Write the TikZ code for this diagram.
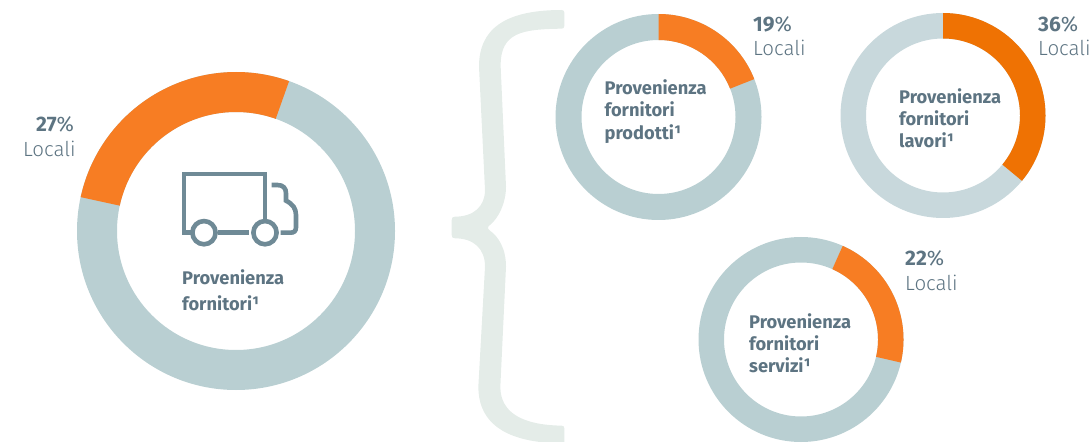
\documentclass[tikz,border=0pt]{standalone}
\usepackage{fontspec}
\setmainfont{Fira Sans}
\newfontfamily\lightfont{Fira Sans Light}
\definecolor{ringgrey}{HTML}{B9CFD2}
\definecolor{ringlight}{HTML}{C8D8DC}
\definecolor{orangeA}{HTML}{F77D23}
\definecolor{orangeB}{HTML}{EF7203}
\definecolor{bracec}{HTML}{E4ECE8}
\definecolor{txt}{HTML}{5D7482}
\definecolor{truckc}{HTML}{6F8A96}
\newcommand{\donut}[5]{%
 \begin{scope}[shift={(#1,442-#2)}]
  \fill[#5] (0,0) circle[radius=#3pt] (0,0) circle[radius=#4pt];
 \end{scope}}
\newcommand{\wedgeseg}[7]{%
 \begin{scope}[shift={(#1,442-#2)}]
  \fill[#7] (90-#5:#3pt) arc[start angle=90-#5,end angle=90-#6,radius=#3pt]
     -- (90-#6:#4pt) arc[start angle=90-#6,end angle=90-#5,radius=#4pt] -- cycle;
 \end{scope}}
\newcommand{\pctmark}{{\mdseries\%}}
\tikzset{
  lab/.style={anchor=base west,inner sep=0pt,font=\fontsize{18.3}{20}\selectfont\bfseries,text=txt},
  pct/.style={anchor=base west,inner sep=0pt,font=\fontsize{21}{22}\selectfont\bfseries,text=txt},
  loc/.style={anchor=base west,inner sep=0pt,font=\fontsize{20.5}{24}\lightfont,text=txt},
  trk/.style={draw=truckc,line width=4.6pt,line join=miter}
}
\begin{document}
\begin{tikzpicture}[x=1pt,y=1pt]
\useasboundingbox (0,0) rectangle (1091,442);
% brace
\begin{scope}[shift={(440,442)},x=0.33333pt,y=-0.33333pt]
\fill[bracec] (365,30) .. controls (370,30) and (373,33) .. (373,38) -- (373,78)
 .. controls (373,83) and (370,86) .. (365,86)
 .. controls (250,88) and (180,95) .. (182,200) -- (198,560)
 .. controls (198,610) and (175,655) .. (150,675)
 .. controls (142,681) and (142,686) .. (150,692)
 .. controls (175,710) and (198,745) .. (198,800) -- (181,1160)
 .. controls (181,1240) and (250,1275) .. (365,1277)
 .. controls (370,1277) and (373,1280) .. (373,1285) -- (373,1326) -- (300,1326)
 .. controls (170,1310) and (115,1250) .. (115,1160) -- (135,800)
 .. controls (135,745) and (100,715) .. (45,715)
 .. controls (38,715) and (35,712) .. (35,705) -- (35,660)
 .. controls (35,653) and (38,650) .. (45,650)
 .. controls (100,650) and (135,620) .. (135,570) -- (117,200)
 .. controls (117,90) and (190,30) .. (365,30) -- cycle;
\end{scope}
% donuts
\begin{scope}[even odd rule]
\donut{236}{231}{159}{119}{ringgrey}
\donut{658.5}{117}{103}{77}{ringgrey}
\donut{943}{115.5}{102.5}{77}{ringlight}
\donut{801}{339.5}{102.5}{77}{ringgrey}
\end{scope}
\wedgeseg{236}{231}{159}{119}{-77.7}{19.5}{orangeA}
\wedgeseg{658.5}{117}{103}{77}{0}{68.4}{orangeA}
\wedgeseg{943}{115.5}{102.5}{77}{0}{129.6}{orangeB}
\wedgeseg{801}{339.5}{102.5}{77}{24}{103}{orangeA}
% truck
\begin{scope}[shift={(160,292)},x=0.33333pt,y=-0.33333pt]
\draw[trk] (95,248) -- (72,248) -- (72,72) -- (315,72) -- (315,212);
\draw[trk] (175,248) -- (268,248);
\draw[trk] (335,105) -- (352,105) .. controls (370,105) and (378,115) .. (378,130)
  -- (378,152) .. controls (398,162) and (408,175) .. (408,195) -- (408,232)
  .. controls (408,243) and (402,248) .. (392,248) -- (362,248);
\draw[trk] (132,248) circle[radius=11.6pt];
\draw[trk] (315,248) circle[radius=11.6pt];
\end{scope}
% labels
\node[pct] (p1) at (36,442-132) {27\pctmark};
\node[loc] (l1) at (23,442-157) {Locali};
\node[lab] (a1) at (182,442-284.5) {Provenienza};
\node[lab] (a2) at (182,442-310) {fornitori¹};
\node[pct] (p2) at (753,442-32) {19\pctmark};
\node[loc] (l2) at (753,442-56) {Locali};
\node[lab] (b1) at (604.5,442-95) {Provenienza};
\node[lab] (b2) at (604.5,442-117) {fornitori};
\node[lab] (b3) at (604.5,442-139.5) {prodotti¹};
\node[pct] (p3) at (1038,442-32) {36\pctmark};
\node[loc] (l3) at (1038,442-56) {Locali};
\node[lab] (c1) at (899,442-104) {Provenienza};
\node[lab] (c2) at (899,442-126) {fornitori};
\node[lab] (c3) at (899,442-148) {lavori¹};
\node[pct] (p4) at (905,442-265) {22\pctmark};
\node[loc] (l4) at (905,442-290) {Locali};
\node[lab] (d1) at (749,442-328) {Provenienza};
\node[lab] (d2) at (749,442-350) {fornitori};
\node[lab] (d3) at (749,442-372) {servizi¹};
\end{tikzpicture}
\end{document}
